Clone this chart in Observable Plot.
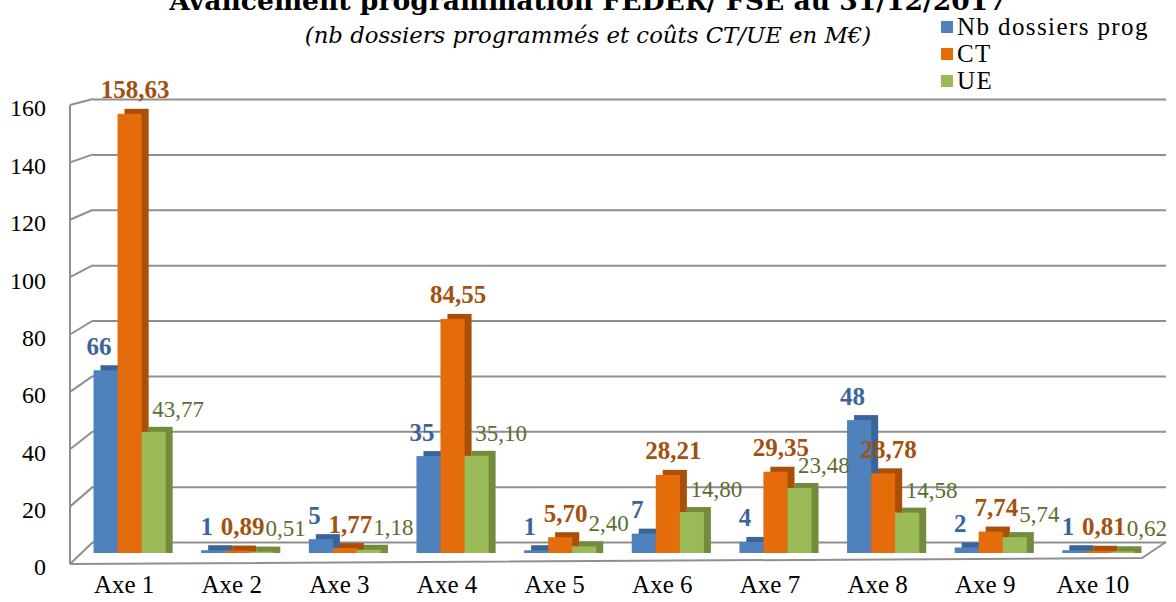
<!DOCTYPE html>
<html>
<head>
<meta charset="utf-8">
<script src="https://cdn.jsdelivr.net/npm/d3@7"></script>
<script src="https://cdn.jsdelivr.net/npm/@observablehq/plot@0.6"></script>
<style>
  html, body { margin: 0; padding: 0; background: #ffffff; }
  #wrap { position: relative; width: 1176px; height: 602px; overflow: hidden; }
  #chart { position: absolute; left: 0; top: 0; }
  #title { position: absolute; left: 0; width: 1176px; top: -13px; text-align: center;
    font: bold 26.6px "DejaVu Serif", serif; line-height: 27px; color: #000; white-space: nowrap; }
  #subtitle { position: absolute; left: 0; width: 1176px; top: 24px; text-align: center;
    font: italic 22.8px "DejaVu Serif", serif; line-height: 23px; color: #000; white-space: nowrap; }
  #legend { position: absolute; left: 941px; top: 13px; font: 25px "Liberation Serif", serif; color: #000; letter-spacing: 1.4px; }
  #legend .item { display: flex; align-items: center; height: 27px; white-space: nowrap; }
  #legend .sw { width: 12px; height: 12px; margin-right: 4px; flex: none; }
  g[aria-label="bold-labels"] text { letter-spacing: 1px; }
</style>
</head>
<body>
<div id="wrap">
  <div id="chart"></div>
  <div id="title">Avancement programmation FEDER/ FSE au 31/12/2017</div>
  <div id="subtitle">(nb dossiers programmés et coûts CT/UE en M€)</div>
  <div id="legend"></div>
</div>
<script>
// ---- data ----
const axes = ["Axe 1", "Axe 2", "Axe 3", "Axe 4", "Axe 5", "Axe 6", "Axe 7", "Axe 8", "Axe 9", "Axe 10"];
const nbDossiers = [66, 1, 5, 35, 1, 7, 4, 48, 2, 1];
const coutCT = [158.63, 0.89, 1.77, 84.55, 5.70, 28.21, 29.35, 28.78, 7.74, 0.81];
const coutUE = [43.77, 0.51, 1.18, 35.10, 2.40, 14.80, 23.48, 14.58, 5.74, 0.62];
const seriesNames = ["Nb dossiers prog", "CT", "UE"];
const yTicks = [0, 20, 40, 60, 80, 100, 120, 140, 160];

// ---- styles ----
const colors = ["#4f81bd", "#e46c0a", "#9bbb59"];
const darkColors = ["#3b6499", "#a94f08", "#728c3d"];
const labelColors = ["#3a659c", "#a3510f", "#5a6e2e"];

const rows = axes.map((a, i) => ({axe: a, nb: nbDossiers[i], ct: coutCT[i], ue: coutUE[i]}));
const fmt2 = v => v.toFixed(2).replace(".", ",");

// legend
const legend = document.getElementById("legend");
seriesNames.forEach((s, i) => {
  const it = document.createElement("div");
  it.className = "item";
  it.innerHTML = `<span class="sw" style="background:${colors[i]}"></span><span>${s}</span>`;
  legend.appendChild(it);
});

const yMax = 160;
// 3D frame: left wall ticks, front wall edge, floor, y tick labels
function frame3d(index, scales, values, dimensions) {
  const y = scales.y;
  const {width, marginLeft, marginRight} = dimensions;
  const xb = marginLeft, xf = marginLeft - 23, xr = width - marginRight;
  const front = v => y(v) + 6 + (yMax - v) / yMax * 16;
  const g = d3.create("svg:g");
  const lines = g.append("g").attr("fill", "none").attr("stroke", "#8f8f8f").attr("stroke-width", 2);
  for (const v of yTicks) {
    lines.append("line").attr("x1", xf).attr("y1", front(v)).attr("x2", xb).attr("y2", y(v));
  }
  lines.append("line").attr("x1", xf).attr("y1", front(yMax)).attr("x2", xf).attr("y2", front(0));
  lines.append("path").attr("d", `M${xf},${front(0)}L${xr - 24},${y(0) + 16}L${xr},${y(0)}`);
  const labels = g.append("g").attr("font-size", 24).attr("font-family", "'Liberation Serif', serif")
    .attr("fill", "#000").attr("text-anchor", "end");
  for (const v of yTicks) {
    labels.append("text").attr("x", xf - 24).attr("y", front(v) + 3).attr("dy", "0.35em").text(String(v));
  }
  return g.node();
}

const keys = ["nb", "ct", "ue"];
const insets = [[0, 48], [24, 24], [48, 0]];
const barMarks = [];
keys.forEach((k, i) => {
  // depth (side + top faces), then the front face
  barMarks.push(Plot.barY(rows, {x: "axe", y: k, fill: darkColors[i], dx: 7, dy: 6, insetBottom: -5,
    insetLeft: insets[i][0], insetRight: insets[i][1]}));
  barMarks.push(Plot.barY(rows, {x: "axe", y: k, fill: colors[i], dy: 11,
    insetLeft: insets[i][0], insetRight: insets[i][1]}));
});

const chart = Plot.plot({
  width: 1176,
  height: 602,
  marginTop: 99,
  marginBottom: 60,
  marginLeft: 93,
  marginRight: 10,
  x: {domain: axes, range: [58, 1170], paddingInner: 0.33, paddingOuter: 0.33, round: false, axis: null},
  y: {domain: [0, yMax], axis: null},
  style: {fontFamily: "'Liberation Serif', serif", background: "transparent", overflow: "visible"},
  marks: [
    Plot.ruleY(yTicks, {stroke: "#8f8f8f", strokeWidth: 2}),
    frame3d,
    ...barMarks,
    Plot.text(rows, {x: "axe", y: "nb", text: d => String(d.nb), dx: -31, dy: -13,
      fill: labelColors[0], fontWeight: "bold", fontSize: 25, ariaLabel: "bold-labels"}),
    Plot.text(rows, {x: "axe", y: "ct", text: d => fmt2(d.ct), dx: 5, dy: -13,
      fill: labelColors[1], fontWeight: "bold", fontSize: 25, ariaLabel: "bold-labels"}),
    Plot.text(rows, {x: "axe", y: "ue", text: d => fmt2(d.ue), dx: 48, dy: -12,
      fill: labelColors[2], fontSize: 23}),
    Plot.text(axes, {x: d => d, text: d => d, frameAnchor: "bottom", dx: -6, dy: 50,
      fill: "#000", fontSize: 25})
  ]
});
document.getElementById("chart").appendChild(chart);
</script>
</body>
</html>
